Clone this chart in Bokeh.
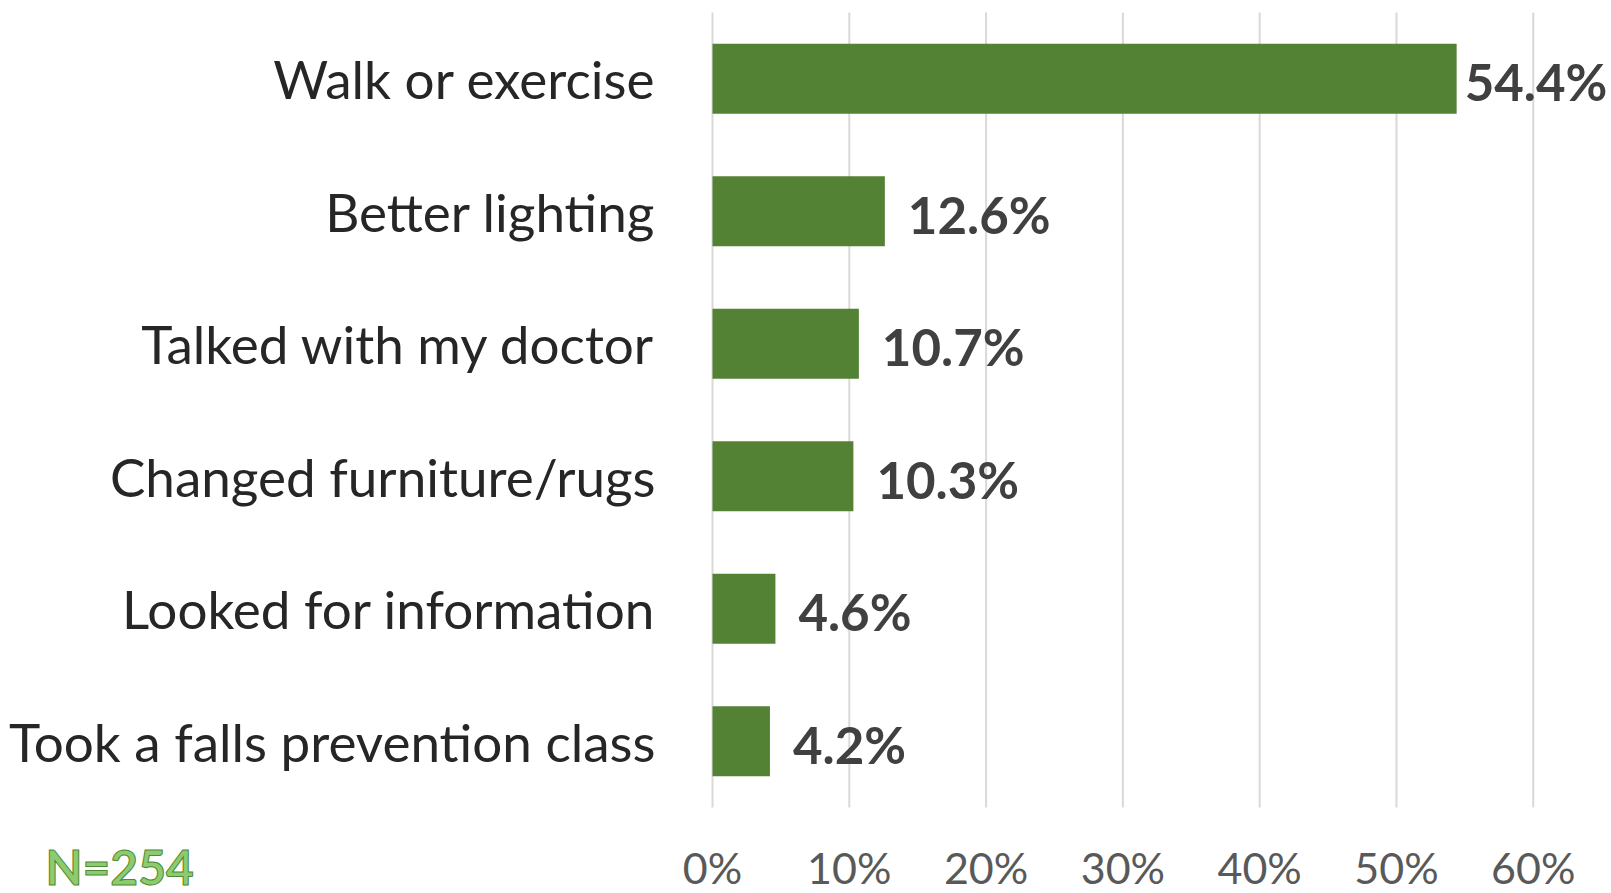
from bokeh.plotting import figure
from bokeh.models import ColumnDataSource, Range1d, FixedTicker, NumeralTickFormatter, Label
from bokeh.core.properties import value
from bokeh.embed import file_html
from bokeh.resources import INLINE

categories = ["Walk or exercise", "Better lighting", "Talked with my doctor",
              "Changed furniture/rugs", "Looked for information", "Took a falls prevention class"]
values = [0.544, 0.126, 0.107, 0.103, 0.046, 0.042]
tick_values = [0, 0.1, 0.2, 0.3, 0.4, 0.5, 0.6]
note_text = "N=254"

n = len(categories)
ypos = [n - 1 - i for i in range(n)]          # first category on top
labels = [f"{v * 100:.1f}%" for v in values]
# Excel pulls the label inward when it would overflow the chart area
offsets = [8 if v > 0.5 else 23 for v in values]

src = ColumnDataSource(dict(y=ypos, val=values, label=labels, xoff=offsets))

FONT = "Lato"
band_lo, band_hi = -0.5, n - 0.5

# the frame covers the whole canvas; the axes sit at fixed locations inside it
p = figure(width=1611, height=893, output_backend="svg", toolbar_location=None,
           y_range=Range1d(band_lo - 0.649, band_hi + 0.0906),
           x_range=Range1d(-0.5205, 0.6572),
           min_border_left=0, min_border_right=0, min_border_top=0, min_border_bottom=0)
p.outline_line_color = None
p.background_fill_color = "white"
p.border_fill_color = "white"
p.grid.grid_line_color = None

# vertical gridlines spanning the category band only
p.segment(x0=tick_values, x1=tick_values, y0=[band_lo] * len(tick_values),
          y1=[band_hi] * len(tick_values), line_color="#D9D9D9", line_width=2)

p.hbar(y="y", left=0, right="val", height=0.53, source=src,
       fill_color="#548235", line_color=None)

p.text(x="val", y="y", text="label", source=src, x_offset="xoff", y_offset=3,
       text_align="left", text_baseline="middle", text_font=value(FONT),
       text_font_style="bold", text_font_size="51px", text_color="#404040")

p.xaxis.ticker = FixedTicker(ticks=tick_values)
p.xaxis.formatter = NumeralTickFormatter(format="0%")
p.xaxis.fixed_location = band_lo
p.xaxis.axis_line_color = None
p.xaxis.major_tick_line_color = None
p.xaxis.major_tick_out = 0
p.xaxis.major_tick_in = 0
p.xaxis.minor_tick_line_color = None
p.xaxis.major_label_standoff = 34
p.xaxis.major_label_text_font = FONT
p.xaxis.major_label_text_font_size = "43px"
p.xaxis.major_label_text_color = "#595959"

p.yaxis.ticker = FixedTicker(ticks=ypos)
p.yaxis.major_label_overrides = {y: c for y, c in zip(ypos, categories)}
p.yaxis.fixed_location = 0
p.yaxis.axis_line_color = None
p.yaxis.major_tick_line_color = None
p.yaxis.major_tick_out = 0
p.yaxis.major_tick_in = 0
p.yaxis.minor_tick_line_color = None
p.yaxis.major_label_standoff = 57
p.yaxis.major_label_text_font = FONT
p.yaxis.major_label_text_font_size = "53px"
p.yaxis.major_label_text_color = "#262626"

note = Label(x=45, y=27, x_units="screen", y_units="screen", text=note_text,
             text_font=FONT, text_font_style="bold", text_font_size="48px",
             text_color="#8DCB6F", text_outline_color="#4E8A34",
             text_baseline="alphabetic", text_align="left")
p.add_layout(note)

open("out.html", "w").write(file_html(p, INLINE))
